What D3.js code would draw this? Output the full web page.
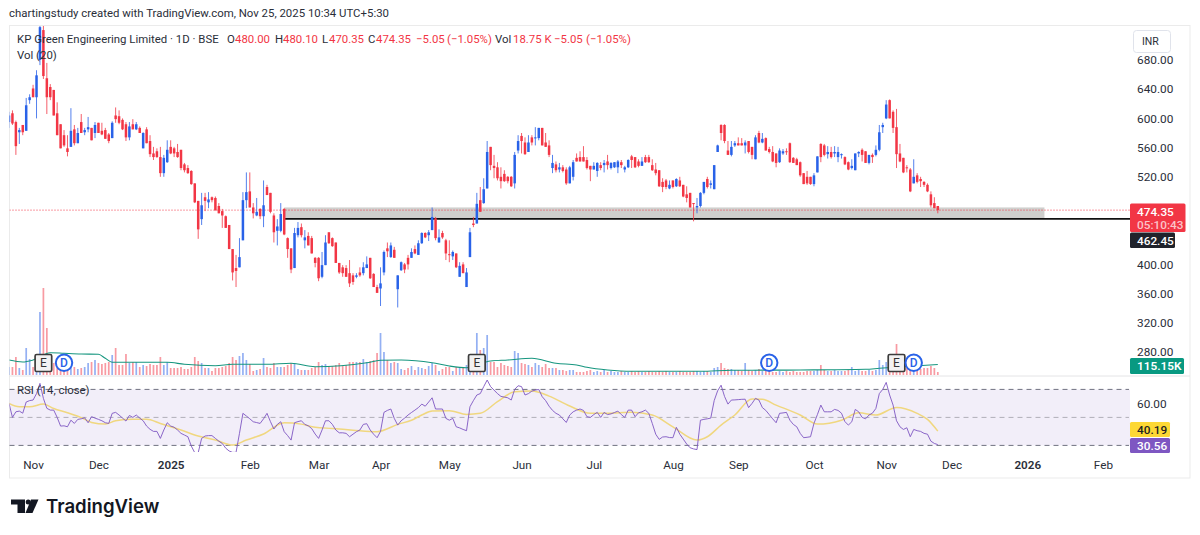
<!DOCTYPE html>
<html><head><meta charset="utf-8">
<script src="https://cdn.jsdelivr.net/npm/d3@7/dist/d3.min.js"></script>
<style>html,body{margin:0;padding:0;background:#fff}svg{display:block}text{font-family:Roboto,sans-serif}</style>
</head><body><svg id="c" width="1200" height="535"></svg>
<script>
const opens=[595,607,595,581,591,583,625,641,629,680,
721,655,643,639,607,592,577,559,561,585,
566,595,581,585,587,580,594,583,584,578,
573,604,603,598,592,574,592,585,587,559,
585,569,552,555,547,525,540,561,559,554,
557,537,532,528,511,487,462,492,485,492,
491,480,473,466,454,421,395,396,433,488,
500,478,467,476,466,506,498,467,446,446,
476,436,422,395,440,451,433,439,436,409,
409,383,399,444,436,430,402,396,395,388,
385,383,389,388,395,409,387,369,367,389,
422,410,420,366,392,400,409,409,421,413,
429,443,440,447,463,430,443,433,414,411,
415,383,400,369,410,456,456,488,484,504,
561,535,533,520,524,520,520,511,556,576,
567,554,574,573,573,587,567,563,532,537,
530,533,530,511,520,546,547,547,543,535,
530,528,536,536,541,532,533,533,540,530,
533,548,547,541,535,547,547,536,530,529,
513,515,504,515,507,515,509,496,498,484,
478,480,498,517,509,503,554,591,591,556,
550,563,566,566,563,569,561,544,580,567,
573,558,554,552,540,552,555,566,546,544,
540,525,520,520,510,526,565,563,551,554,
552,547,550,547,540,532,529,552,557,555,
539,550,550,557,588,600,625,609,588,552,
546,533,530,511,522,517,513,509,496,484,480];
const highs=[609,611,597,587,591,628,633,646,666,745,
745,676,647,639,622,592,584,577,614,591,
587,606,587,602,587,595,594,594,587,580,
596,615,611,600,595,595,599,595,589,581,
588,577,561,559,561,550,570,570,561,565,
557,539,536,529,511,487,498,498,499,493,
493,484,476,467,454,421,413,436,499,526,
526,484,491,477,515,509,498,470,462,484,
477,437,422,450,458,456,447,444,439,410,
410,417,440,444,437,430,402,399,399,406,
388,388,396,403,411,409,388,372,396,419,
430,430,424,385,404,402,413,422,426,433,
444,444,447,478,465,448,446,435,433,419,
415,403,403,395,450,465,498,506,518,569,
561,550,540,533,529,521,521,554,577,580,
574,577,577,588,587,587,580,570,550,541,
539,536,533,535,543,552,555,562,547,535,
540,540,540,543,550,540,540,543,543,535,
544,550,547,544,547,550,550,544,539,529,
518,517,515,515,518,520,509,507,498,484,
491,499,513,520,515,536,564,592,592,569,
569,569,574,573,570,569,561,577,583,580,
574,561,562,552,559,558,559,567,547,546,
541,525,528,520,525,548,566,565,562,561,
562,561,552,548,541,544,552,555,559,555,
550,552,563,591,594,625,626,611,613,565,
546,536,532,544,525,520,514,511,500,492,480];
const lows=[587,591,550,565,577,583,620,629,600,673,
654,606,625,604,577,559,561,548,561,563,
566,580,577,581,570,573,580,577,572,566,
573,594,592,584,569,570,585,584,580,559,
566,547,543,546,520,520,539,551,547,546,
529,526,524,509,484,435,454,473,477,485,
474,470,450,450,421,378,369,396,433,477,
478,463,466,462,451,495,470,430,426,444,
440,409,388,395,437,437,422,426,415,396,
377,381,399,428,424,402,387,383,383,369,
372,381,383,385,395,380,369,361,343,385,
410,409,409,341,391,388,393,409,414,413,
428,436,432,447,433,430,435,406,403,406,
395,383,388,369,410,451,456,472,483,504,
529,518,515,504,513,511,506,504,552,552,
550,554,563,563,570,563,561,547,525,526,
526,526,509,511,515,541,541,541,530,514,
530,520,529,526,530,530,532,525,532,526,
532,532,532,533,535,539,539,528,522,506,
499,503,503,504,506,506,492,485,478,459,
470,478,496,504,504,503,554,570,566,550,
548,561,563,563,552,552,544,544,566,566,
556,552,540,533,539,550,550,539,539,536,
520,510,509,509,507,526,540,548,545,545,
547,540,545,536,529,530,529,547,541,539,
537,539,548,555,580,599,600,580,532,540,
525,526,499,511,511,506,506,499,478,477,470];
const closes=[604,593,562,584,581,618,629,629,659,725,
658,629,629,604,577,559,563,554,583,566,
580,580,584,588,570,591,580,578,572,569,
594,599,594,585,574,589,585,592,580,580,
566,551,547,547,525,546,557,552,552,547,
532,529,525,510,485,448,481,487,489,488,
474,470,467,450,421,389,391,410,488,499,
478,470,472,466,481,495,472,444,452,469,
441,421,393,443,450,440,437,426,415,402,
381,399,430,429,425,402,389,388,383,374,
376,385,385,396,400,381,369,361,374,417,
418,426,409,385,403,393,400,417,415,429,
443,437,444,465,436,437,437,415,413,417,
396,398,388,389,444,454,483,472,503,554,
536,532,518,514,514,514,507,550,569,569,
551,567,567,574,587,563,561,550,539,529,
533,528,511,533,540,541,541,541,532,530,
535,539,532,539,536,539,540,541,536,533,
543,543,533,535,541,540,540,529,525,507,
506,506,509,506,517,507,493,491,478,483,
480,498,513,506,511,536,563,580,569,550,
561,566,563,563,567,554,550,574,567,572,
556,554,541,539,556,555,554,540,539,536,
522,510,511,510,522,548,547,550,554,547,
554,554,551,537,530,535,552,554,550,539,
550,547,557,581,591,619,600,587,551,541,
526,532,500,520,513,514,509,500,481,477,474.35];
const volumes=[80,80,180,70,50,270,160,80,170,630,
870,470,140,120,100,120,140,100,90,80,
60,70,80,120,130,150,120,110,120,130,
200,270,100,100,210,120,130,130,80,100,
90,110,100,100,180,100,130,70,70,70,
80,60,60,80,180,140,120,70,70,40,
70,70,80,90,120,180,150,190,220,150,
110,40,50,60,170,80,70,120,80,80,
80,100,120,120,60,50,50,50,70,80,
130,100,110,90,90,100,120,90,100,130,
130,130,130,160,130,140,150,220,420,230,
150,120,130,120,60,50,70,90,50,80,
70,60,90,120,100,40,60,80,80,40,
80,70,70,100,200,150,420,250,270,400,
130,130,80,120,100,90,80,240,220,120,
110,100,80,120,100,80,110,70,70,70,
50,50,40,50,50,30,30,30,40,50,
30,40,30,50,30,40,30,30,40,30,
30,40,30,40,30,30,40,30,30,40,
30,40,30,30,30,40,30,30,30,40,
40,30,40,40,30,70,80,120,70,60,
60,50,50,40,120,50,40,50,60,40,
40,40,30,30,40,30,40,30,40,30,
30,30,40,40,40,50,100,50,40,40,
50,40,40,40,50,80,40,50,40,40,
50,40,50,150,100,130,150,200,310,80,
80,70,60,60,50,60,70,70,90,70,30];
const rsi=[60,50,54,54.5,53,61,62,62.4,67,74.3,
63.6,56.5,55.2,55.2,50,43.8,44,43.3,48,45.7,
48.6,49,49.7,46.2,50.5,49.5,48.6,47.6,46.2,45.7,
52.9,53.6,51.7,49.5,47.4,51.4,50,51.7,49.5,47.6,
43.8,41.5,40,40,35,41,46.2,43.8,43,41,
38.6,37.4,36.2,29.5,24.8,24.8,35,36.7,37,37,
35,33,31.4,28,26,25,25,38.6,52.9,51,
49,46.9,46.3,45.7,49,52.9,47,41.7,45,46.9,
39.8,37,33.8,46.2,47,47.6,45,44,42,38.1,
35,41,47.6,47.6,45,41,39,39,38.6,36.2,
38,39.8,41,45,45.5,41,38,35.5,40,53.6,
55,56,49.3,44.5,47.6,49.5,51.7,53.5,55.2,57,
59.5,58,61,64,56,56,56,49.3,48,49.3,
43.3,42.5,41.4,40.5,57.6,62,66,67,72,76.7,
72,69.5,67,65,64.5,64,62.4,70,72.6,72,
66,67,68.8,69.5,70,64.8,62,58,55,52.9,
51.7,49,46.4,51.7,54,55.2,56,55,50.5,50,
52,53.6,50,53.6,52,52.5,53.5,54.5,52,50,
55.2,55.2,50.5,53.3,54,55.2,52.9,45.7,38,34.3,
36,36.2,35.6,35.5,42.9,38,34.5,31,28.3,27.5,
27,48,48.6,49,49.5,62,69,73,65,59.5,
62.4,62.5,62.7,62.9,63,57,60,63.6,62.4,57,
55,52,49,46.2,52.9,53.2,53.6,48,45,43.3,
38.6,35.5,35.8,36.2,45.7,52,58.8,54,54,54,
55.7,55,53,47,44.5,46.9,55.7,54,50,49,
51.7,53,56.4,67,70,75,66,58.8,47.6,43.3,
41.4,42.6,36.2,41.4,40.5,40,38.6,38,33,31.4,30.56];
const volMaIdx=[0,4,7,12,16,21,26,28,30,36,46,51,60,65,75,82,89,104,108,114,123,128,133,140,145,152,159,165,168,174,181,201,210,230,249,253,270];
const volMaVal=[150,130,150,223,217,210,207,167,127,127,127,107,93,107,107,117,83,123,147,150,123,90,73,140,150,167,117,100,77,50,37,37,47,50,57,67,105];
const rsiMaIdx=[0,3,6,10,13,17,21,24,28,31,36,40,44,50,55,60,65,69,74,80,85,89,94,100,107,113,117,120,123,128,133,137,142,147,152,157,163,169,174,181,187,193,200,203,207,211,216,219,223,230,235,242,247,252,258,264,267,270];
const rsiMaVal=[60,57.6,57.6,59.5,56.4,53.3,49.8,46.4,45.2,47.6,48.6,48.6,45.7,41,36.7,33.8,30.2,33.8,38.1,46.2,45.2,42.9,42.1,40.9,39.8,45,48,51.7,54.5,54.8,52.1,52.9,61.2,68.3,68.8,65.2,58.1,52.9,52.9,53.6,51.7,43.3,33.8,36.2,44.5,51.7,63.1,62.9,58.8,51.7,45.2,48,53.3,51.7,57.1,52.9,48.6,40.19];
const priceTicks=[680,640,600,560,520,400,360,320,280];
const monthIdx=[7,26,47,70,90,108,128,149,170,193,212,234,255,274,296,318];
const monthLabels=["Nov","Dec","2025","Feb","Mar","Apr","May","Jun","Jul","Aug","Sep","Oct","Nov","Dec","2026","Feb"];
const eventIdx=[10,16,136,221,258,263];
const eventKinds=["E","D","E","D","E","D"];
const zonePrices=[474.6,462.45];
const zoneIdx=[80,301];
const lastClose=474.35, supportLevel=462.45;

const svg=d3.select("#c");
const BLUE="#2962e8",RED="#f23645";
const x=d3.scaleLinear().domain([0,270]).range([9,937.8]);
const y=d3.scaleLinear().domain([680,280]).range([60,352]);
const v=d3.scaleLinear().domain([0,1000]).range([375,275]);
const r=d3.scaleLinear().domain([30,70]).range([445.4,389.4]);
const L=9.5,R=1130,RB=1190;

const defs=svg.append("defs");
defs.append("clipPath").attr("id","pp").append("rect").attr("x",L).attr("y",26).attr("width",R-L).attr("height",350);
defs.append("clipPath").attr("id","rp").append("rect").attr("x",L).attr("y",377).attr("width",R-L).attr("height",75);

// frame
svg.append("rect").attr("x",9.5).attr("y",25.5).attr("width",RB-9.5).attr("height",452.5).attr("fill","#fff").attr("stroke","#ebebeb");
svg.append("line").attr("x1",L).attr("x2",RB).attr("y1",376).attr("y2",376).attr("stroke","#e4e4e6");
svg.append("text").attr("x",9).attr("y",17).attr("font-size",11.4).attr("fill","#2a2e39")
  .text("chartingstudy created with TradingView.com, Nov 25, 2025 10:34 UTC+5:30");

const pane=svg.append("g").attr("clip-path","url(#pp)");
// zone and level
pane.append("rect").attr("x",x(zoneIdx[0])).attr("width",x(zoneIdx[1])-x(zoneIdx[0]))
  .attr("y",y(zonePrices[0])-2.5).attr("height",y(zonePrices[1])-y(zonePrices[0])+2.5).attr("fill","#cfcfcd");
pane.append("line").attr("x1",x(zoneIdx[0])).attr("x2",R).attr("y1",y(supportLevel)).attr("y2",y(supportLevel)).attr("stroke","#111").attr("stroke-width",1.8);
pane.append("line").attr("x1",L).attr("x2",R).attr("y1",y(lastClose)).attr("y2",y(lastClose)).attr("stroke",RED).attr("stroke-width",1).attr("stroke-dasharray","1 2");

// volume
const idx=d3.range(opens.length);
const col=i=>closes[i]>=opens[i]?BLUE:RED;
pane.append("g").selectAll("rect").data(idx).join("rect")
  .attr("x",i=>x(i)-.85).attr("width",1.7).attr("y",i=>v(volumes[i])).attr("height",i=>375-v(volumes[i]))
  .attr("fill",i=>col(i)).attr("opacity",.5);
pane.append("path").attr("fill","none").attr("stroke","#16967f").attr("stroke-width",1.1)
  .attr("d",d3.line().x((d,i)=>x(d)).y((d,i)=>v(volMaVal[i])).curve(d3.curveMonotoneX)(volMaIdx));

// candles
pane.append("g").selectAll("line").data(idx).join("line")
  .attr("x1",i=>x(i)).attr("x2",i=>x(i)).attr("y1",i=>y(highs[i])).attr("y2",i=>y(lows[i]))
  .attr("stroke",i=>col(i)).attr("stroke-width",1).attr("stroke-opacity",.8);
pane.append("g").selectAll("rect").data(idx).join("rect")
  .attr("x",i=>x(i)-1.25).attr("width",2.5)
  .attr("y",i=>y(Math.max(opens[i],closes[i])))
  .attr("height",i=>Math.max(1,Math.abs(y(opens[i])-y(closes[i]))))
  .attr("fill",i=>col(i));

// events
const ev=svg.append("g");
eventIdx.forEach((d,k)=>{
  const cx=x(d);
  if(eventKinds[k]==="E"){
    ev.append("rect").attr("x",cx-8.3).attr("y",354.5).attr("width",16.6).attr("height",17).attr("rx",1.5).attr("fill","#f2f2f2").attr("stroke","#3c3c3c").attr("stroke-width",1.7);
    ev.append("text").attr("x",cx).attr("y",367.3).attr("text-anchor","middle").attr("font-size",12).attr("fill","#333").text("E");
  }else{
    ev.append("circle").attr("cx",cx).attr("cy",362.8).attr("r",8.2).attr("fill","#fff").attr("stroke","#2962e8").attr("stroke-width",2);
    ev.append("text").attr("x",cx).attr("y",367.3).attr("text-anchor","middle").attr("font-size",12).attr("font-weight",500).attr("fill","#2962e8").text("D");
  }
});

// RSI
svg.append("rect").attr("x",L).attr("width",R-L).attr("y",r(70)).attr("height",r(30)-r(70)).attr("fill","#7e57c2").attr("fill-opacity",.1);
svg.append("g").selectAll("line").data([70,50,30]).join("line")
  .attr("x1",L).attr("x2",R-1).attr("y1",d=>r(d)).attr("y2",d=>r(d))
  .attr("stroke",(d)=>d===50?"#b0aeb8":"#6f7280").attr("stroke-width",1).attr("stroke-dasharray","5 4");
const rp=svg.append("g").attr("clip-path","url(#rp)");
rp.append("path").attr("fill","none").attr("stroke","#f0d77f").attr("stroke-width",1.5)
  .attr("d",d3.line().x(d=>x(d)).y((d,i)=>r(rsiMaVal[i])).curve(d3.curveMonotoneX)(rsiMaIdx));
rp.append("path").attr("fill","none").attr("stroke","#7e57c2").attr("stroke-width",1).attr("stroke-opacity",.9)
  .attr("d",d3.line().x((d,i)=>x(i)).y(d=>r(d))(rsi));

// legend
const lg=svg.append("g").attr("font-size",11.4);
const fg="#2a2e39";
[[17,43,"KP Green Engineering Limited · 1D · BSE",fg],[227,43,"O",fg],[235,43,"480.00",RED],[275,43,"H",fg],[283,43,"480.10",RED],[322,43,"L",fg],[329,43,"470.35",RED],[368,43,"C",fg],[376,43,"474.35",RED],[416,43,"−5.05",RED],[447,43,"(−1.05%)",RED],[495,43,"Vol",fg],[513,43,"18.75 K",RED],[554,43,"−5.05",RED],[586,43,"(−1.05%)",RED],[17,59,"Vol (20)",fg]]
 .forEach(t=>lg.append("text").attr("x",t[0]).attr("y",t[1]).attr("fill",t[3]).text(t[2]));
svg.append("text").attr("x",17).attr("y",394).attr("font-size",11.4).attr("fill",fg).text("RSI (14, close)");

// axes
const ax=svg.append("g").attr("transform","translate(1131,0)")
  .call(d3.axisRight(y).tickValues(priceTicks).tickSize(0).tickPadding(6).tickFormat(d3.format(".2f")));
ax.select(".domain").remove();
ax.selectAll("text").attr("font-size",11.8).attr("fill",fg).style("font-family","Roboto");
const ax2=svg.append("g").attr("transform","translate(1131,0)")
  .call(d3.axisRight(r).tickValues([60]).tickSize(0).tickPadding(6).tickFormat(d3.format(".2f")));
ax2.select(".domain").remove();
ax2.selectAll("text").attr("font-size",11.8).attr("fill",fg).style("font-family","Roboto");
const xa=svg.append("g").attr("transform","translate(0,461)")
  .call(d3.axisBottom(x).tickValues(monthIdx).tickSize(0).tickPadding(0).tickFormat((d,i)=>monthLabels[i]));
xa.select(".domain").remove();
xa.selectAll("text").attr("font-size",11.7).attr("fill",fg).style("font-family","Roboto")
  .attr("font-weight",(d,i)=>/^20/.test(monthLabels[i])?600:400);

// INR
svg.append("rect").attr("x",1133.5).attr("y",30.5).attr("width",37).attr("height",22).attr("rx",3).attr("fill","#fff").attr("stroke","#e0e3eb");
svg.append("text").attr("x",1142).attr("y",45).attr("font-size",10.5).attr("fill",fg).text("INR");

// price tags
function tag(x0,y0,w,h,fill,lines){
  svg.append("rect").attr("x",x0).attr("y",y0).attr("width",w).attr("height",h).attr("rx",1.5).attr("fill",fill);
  lines.forEach(l=>svg.append("text").attr("x",x0+7).attr("y",l[1]).attr("font-size",11.8).attr("font-weight",l[3]||500).attr("fill",l[2]).text(l[0]));
}
tag(1130,203.5,55.5,28.5,RED,[["474.35",216,"#fff"],["05:10:43",229,"#fbc4c9"]]);
tag(1130,232.5,45,15.5,"#20232b",[["462.45",244.5,"#fff"]]);
tag(1130,358,54,16,"#089981",[["115.15K",370,"#fff",600]]);
tag(1130,422,40,15,"#fdd835",[["40.19",434,"#222"]]);
tag(1130,438,40,15,"#7e57c2",[["30.56",450,"#fff"]]);

// logo
const logo=svg.append("g").attr("fill","#131722");
logo.append("path").attr("d","M11 499.5H25V513H17.5V504.5H11Z");
logo.append("circle").attr("cx",28.2).attr("cy",502).attr("r",2.5);
logo.append("path").attr("d","M31 499.5H38.5L32.5 513H25.5Z");
svg.append("text").attr("x",46).attr("y",513).attr("font-size",18.6).attr("font-weight",600).attr("fill","#131722").style("font-family","Inter").text("TradingView");
</script></body></html>
